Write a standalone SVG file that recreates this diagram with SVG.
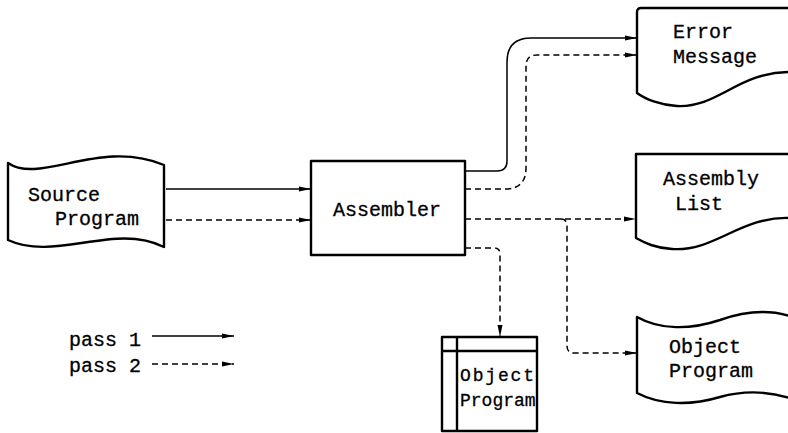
<svg xmlns="http://www.w3.org/2000/svg" width="788" height="433" viewBox="0 0 788 433">
<defs>
<marker id="ah" markerUnits="userSpaceOnUse" markerWidth="13" markerHeight="7" refX="12" refY="3.5" orient="auto">
<path d="M0,1 L12,3.5 L0,6 Z" fill="#000"/>
</marker>
<style>
.shape{fill:#fff;stroke:#000;stroke-width:2.4;stroke-linejoin:round}
.t{font-family:"Liberation Mono","DejaVu Sans Mono",monospace;font-size:20px;fill:#000;stroke:#000;stroke-width:0.3}
.s{font-size:18px}
.c{fill:none;stroke:#000;stroke-width:1.5;marker-end:url(#ah)}
.d{stroke-dasharray:6,4}
</style>
</defs>
<rect width="788" height="433" fill="#fff"/>
<g id="source">
<path class="shape" d="M8,163 C40,185 100,138 164,165 V247 C115,222 55,262 8,240 Z"/>
<text class="t" x="28" y="201">Source</text>
<text class="t" x="55" y="225">Program</text>
</g>
<g id="assembler">
<rect class="shape" x="311" y="161" width="154" height="94"/>
<text class="t" x="333" y="216">Assembler</text>
</g>
<g id="error">
<path class="shape" d="M637,12 Q637,8 641,8 H790 V72 C738,72 718,108 677,106 C660,105 645,99 637,93 Z"/>
<text class="t" x="673" y="38">Error</text>
<text class="t" x="673" y="63">Message</text>
</g>
<g id="assemblylist">
<path class="shape" d="M636,154 H790 V218 C740,216 715,252 672,249 C655,248 645,243 636,238 Z"/>
<text class="t" x="663" y="185">Assembly</text>
<text class="t" x="675" y="210">List</text>
</g>
<g id="objectprogram">
<path class="shape" d="M637,317 C660,330 690,330 720,320 C745,311 770,310 790,316 V398 C770,392 745,390 720,397 C690,406 660,405 637,393 Z"/>
<text class="t" x="669" y="353">Object</text>
<text class="t" x="669" y="377">Program</text>
</g>
<g id="objectstore">
<rect class="shape" x="442" y="337" width="95" height="94"/>
<line x1="457" y1="337" x2="457" y2="431" stroke="#000" stroke-width="2.4"/>
<line x1="442" y1="351" x2="537" y2="351" stroke="#000" stroke-width="2.4"/>
<text class="t s" x="460" y="381" textLength="74">Object</text>
<text class="t s" x="460" y="406">Program</text>
</g>
<g id="connectors">
<path class="c" d="M166,189 H311"/>
<path class="c d" d="M166,220 H311"/>
<path class="c" d="M465,171 H497 Q507,171 507,161 V62 Q507,38 531,38 H637"/>
<path class="c d" d="M465,189 H505 Q526,189 526,168 V66 Q526,55 537,55 H637"/>
<path class="c d" d="M465,219 H636"/>
<path class="c d" d="M561,219 Q567,219 567,226 V346 Q567,353 574,353 H637"/>
<path class="c d" d="M465,248 H494 Q500,248 500,254 V337"/>
</g>
<g id="legend">
<text class="t" x="69" y="346" xml:space="preserve">pass 1</text>
<text class="t" x="69" y="372" xml:space="preserve">pass 2</text>
<path class="c" d="M152,336 H234"/>
<path class="c d" d="M152,364 H234"/>
</g>
</svg>
